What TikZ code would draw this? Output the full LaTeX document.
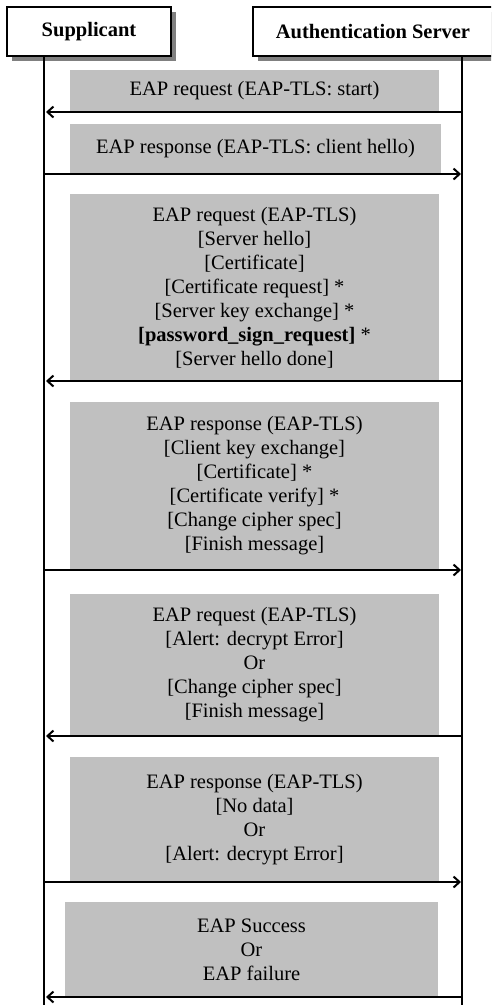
\documentclass[tikz,border=0pt]{standalone}
\usepackage{fontspec}
\setmainfont{Liberation Serif}
\usetikzlibrary{arrows.meta,shadows}
\definecolor{boxgray}{HTML}{C0C0C0}
\definecolor{shadowgray}{HTML}{808080}
\begin{document}
\begin{tikzpicture}[x=1pt,y=-1pt,
  hdr/.style={draw=black, line width=1.3pt, fill=white, inner sep=0pt,
    font=\fontsize{20.5}{24}\selectfont\bfseries,
    copy shadow={shadow xshift=5pt, shadow yshift=-5pt, fill=shadowgray, draw=none}},
  msg/.style={fill=boxgray, inner sep=0pt, align=center,
    font=\fontsize{20.5}{24}\selectfont},
  life/.style={line width=1.3pt},
  sig/.style={line width=2pt, -{Straight Barb[length=6pt,width=11pt,line width=2pt]}}]
\useasboundingbox (0,0) rectangle (491,1005);
\clip (0,0) rectangle (491,1005);
% headers
\node[hdr, minimum width=164pt, minimum height=49pt] (sup) at (89,31.5) {Supplicant};
\node[hdr, minimum width=240pt, minimum height=49pt] (as) at (373,31.5) {Authentication Server};
% lifelines
\coordinate (supTop) at (44,56.6);
\coordinate (supBot) at (44,1005);
\coordinate (asTop) at (462,56.6);
\coordinate (asBot) at (462,1005);
\draw[life] (supTop) -- (supBot);
\draw[life] (asTop) -- (asBot);
% message boxes
\node[msg, minimum width=369pt, minimum height=42pt] (m1) at (254.5,91) {EAP request (EAP-TLS: start)};
\node[msg, minimum width=371pt, minimum height=50pt] (m2) at (255.5,149) {EAP response (EAP-TLS: client hello)};
\node[msg, minimum width=369pt, minimum height=187pt] (m3) at (254.5,287.5) {EAP request (EAP-TLS)\\{[Server hello]}\\{[Certificate]}\\{[Certificate request] *}\\{[Server key exchange] *}\\{\textbf{[password\_sign\_request]} *}\\{[Server hello done]}};
\node[msg, minimum width=369pt, minimum height=168pt] (m4) at (254.5,486) {EAP response (EAP-TLS)\\{[Client key exchange]}\\{[Certificate] *}\\{[Certificate verify] *}\\{[Change cipher spec]}\\{[Finish message]}};
\node[msg, minimum width=369pt, minimum height=142pt] (m5) at (254.5,665) {EAP request (EAP-TLS)\\{[Alert: decrypt Error]}\\Or\\{[Change cipher spec]}\\{[Finish message]}};
\node[msg, minimum width=369pt, minimum height=125pt] (m6) at (254.5,819.5) {EAP response (EAP-TLS)\\{[No data]}\\Or\\{[Alert: decrypt Error]}};
\node[msg, minimum width=373pt, minimum height=95pt] (m7) at (251.5,949.5) {EAP Success\\Or\\EAP failure};
% arrow end points
\coordinate (r1) at (462,112); \coordinate (l1) at (46,112);
\coordinate (l2) at (44,174); \coordinate (r2) at (461,174);
\coordinate (r3) at (462,381); \coordinate (l3) at (46,381);
\coordinate (l4) at (44,570); \coordinate (r4) at (461,570);
\coordinate (r5) at (462,736); \coordinate (l5) at (46,736);
\coordinate (l6) at (44,882); \coordinate (r6) at (461,882);
\coordinate (r7) at (462,997); \coordinate (l7) at (46,997);
\draw[sig] (r1) -- (l1);
\draw[sig] (l2) -- (r2);
\draw[sig] (r3) -- (l3);
\draw[sig] (l4) -- (r4);
\draw[sig] (r5) -- (l5);
\draw[sig] (l6) -- (r6);
\draw[sig] (r7) -- (l7);
\end{tikzpicture}
\end{document}
